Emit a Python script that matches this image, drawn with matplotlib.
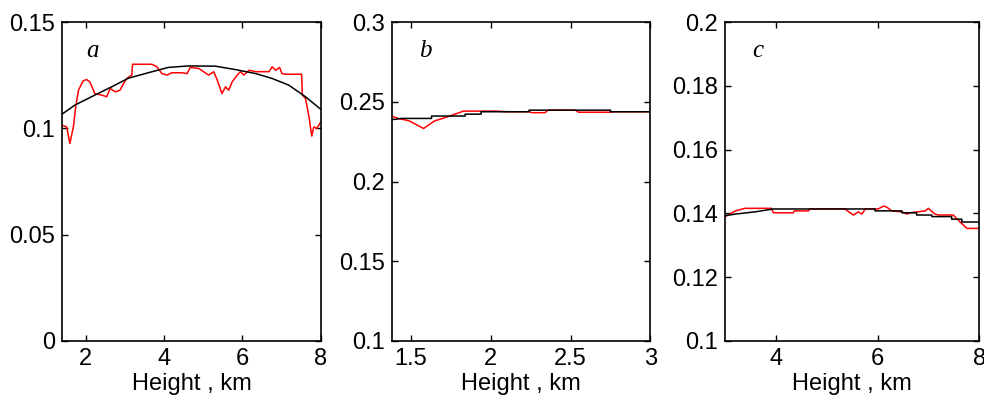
import matplotlib
matplotlib.use("Agg")
from matplotlib import pyplot as plt
from matplotlib import font_manager

# panel a
a_black_x = [1.40, 1.73, 2.24, 2.67, 3.09, 3.60, 4.11, 4.62, 5.31, 5.82, 6.34, 6.76, 7.18, 7.61, 8.00]
a_black_y = [0.1067, 0.1110, 0.1157, 0.1196, 0.1236, 0.1262, 0.1287, 0.1294, 0.1293, 0.1277,
             0.1258, 0.1235, 0.1204, 0.1149, 0.1090]
a_red_x = [1.40, 1.52, 1.60, 1.69, 1.75, 1.82, 1.94, 2.03, 2.11, 2.24, 2.41, 2.54, 2.63, 2.76,
           2.88, 2.97, 3.05, 3.18, 3.20, 3.69, 3.82, 3.95, 4.08, 4.20, 4.46, 4.59, 4.67, 4.89,
           5.01, 5.14, 5.27, 5.36, 5.48, 5.57, 5.65, 5.74, 5.87, 5.95, 6.04, 6.17, 6.34, 6.68,
           6.76, 6.85, 6.95, 7.01, 7.10, 7.51, 7.53, 7.61, 7.70, 7.77, 7.82, 7.90, 8.00]
a_red_y = [0.1015, 0.1007, 0.0929, 0.1007, 0.1102, 0.1180, 0.1224, 0.1230, 0.1219, 0.1164,
           0.1157, 0.1149, 0.1188, 0.1172, 0.1180, 0.1211, 0.1235, 0.1251, 0.1302, 0.1302,
           0.1290, 0.1258, 0.1251, 0.1262, 0.1262, 0.1258, 0.1287, 0.1282, 0.1267, 0.1251,
           0.1267, 0.1227, 0.1164, 0.1196, 0.1180, 0.1219, 0.1251, 0.1267, 0.1251, 0.1274,
           0.1267, 0.1267, 0.1290, 0.1274, 0.1287, 0.1258, 0.1255, 0.1255, 0.1157, 0.1141,
           0.1054, 0.0964, 0.1007, 0.1000, 0.1031]

# panel b
b_black_x = [1.38, 1.40, 1.44, 1.63, 1.63, 1.84, 1.84, 1.94, 1.94, 2.24, 2.24, 2.75, 2.75, 3.00]
b_black_y = [0.2390, 0.2390, 0.2396, 0.2396, 0.2411, 0.2411, 0.2423, 0.2423, 0.2438, 0.2438,
             0.2448, 0.2448, 0.2438, 0.2438]
b_red_x = [1.38, 1.42, 1.49, 1.58, 1.65, 1.70, 1.76, 1.83, 2.03, 2.10, 2.24, 2.26, 2.34, 2.36,
           2.53, 2.55, 2.75, 2.77, 3.00]
b_red_y = [0.2411, 0.2396, 0.2381, 0.2333, 0.2381, 0.2396, 0.2417, 0.2442, 0.2442, 0.2438,
           0.2438, 0.2432, 0.2432, 0.2448, 0.2448, 0.2435, 0.2435, 0.2438, 0.2438]

# panel c
c_black_x = [3.00, 3.20, 3.59, 3.95, 5.95, 5.95, 6.48, 6.48, 6.77, 6.77, 7.07, 7.07, 7.46,
             7.46, 7.66, 7.66, 8.00]
c_black_y = [0.1393, 0.1398, 0.1405, 0.1414, 0.1414, 0.1408, 0.1408, 0.1402, 0.1402, 0.1395,
             0.1395, 0.1390, 0.1390, 0.1382, 0.1382, 0.1373, 0.1373]
c_red_x = [3.00, 3.20, 3.39, 3.91, 3.95, 4.34, 4.36, 4.64, 4.66, 5.36, 5.46, 5.53, 5.62, 5.69,
           5.76, 6.01, 6.12, 6.18, 6.28, 6.48, 6.58, 6.64, 6.94, 7.00, 7.13, 7.20, 7.49, 7.59,
           7.76, 7.92, 8.00]
c_red_y = [0.1390, 0.1408, 0.1416, 0.1416, 0.1402, 0.1402, 0.1408, 0.1408, 0.1414, 0.1414,
           0.1402, 0.1395, 0.1405, 0.1398, 0.1414, 0.1414, 0.1423, 0.1420, 0.1408, 0.1405,
           0.1398, 0.1402, 0.1408, 0.1416, 0.1398, 0.1395, 0.1395, 0.1379, 0.1353, 0.1353,
           0.1353]

a_yticks = [0, 0.05, 0.1, 0.15]
a_ylabels = ["0", "0.05", "0.1", "0.15"]
b_xticks = [1.5, 2, 2.5, 3]
b_xlabels = ["1.5", "2", "2.5", "3"]
b_yticks = [0.1, 0.15, 0.2, 0.25, 0.3]
b_ylabels = ["0.1", "0.15", "0.2", "0.25", "0.3"]
c_xticks = [4, 6, 8]
c_yticks = [0.1, 0.12, 0.14, 0.16, 0.18, 0.2]
c_ylabels = ["0.1", "0.12", "0.14", "0.16", "0.18", "0.2"]

# 字体: 优先窄体
names = {f.name for f in font_manager.fontManager.ttflist}
if "Liberation Sans Narrow" in names:
    fam = ["Liberation Sans Narrow", "DejaVu Sans"]
    fs = 19
else:
    fam = ["Liberation Sans", "DejaVu Sans"]
    fs = 17
plt.rcParams["font.family"] = fam

fig = plt.figure(figsize=(9.84, 4.03), dpi=100)

ax_a = fig.add_axes([0.063, 0.154, 0.263, 0.791])
ax_b = fig.add_axes([0.398, 0.154, 0.263, 0.791])
ax_c = fig.add_axes([0.737, 0.154, 0.258, 0.791])

ax_a.plot(a_red_x, a_red_y, color="red", lw=1.1)
ax_a.plot(a_black_x, a_black_y, color="black", lw=1.1)
ax_a.set_xlim(1.4, 8)
ax_a.set_ylim(0, 0.15)
ax_a.set_xticks([2, 4, 6, 8])
ax_a.set_yticks(a_yticks, a_ylabels)

ax_b.plot(b_red_x, b_red_y, color="red", lw=1.1)
ax_b.plot(b_black_x, b_black_y, color="black", lw=1.1)
ax_b.set_xlim(1.38, 3)
ax_b.set_ylim(0.1, 0.3)
ax_b.set_xticks(b_xticks, b_xlabels)
ax_b.set_yticks(b_yticks, b_ylabels)

ax_c.plot(c_red_x, c_red_y, color="red", lw=1.1)
ax_c.plot(c_black_x, c_black_y, color="black", lw=1.1)
ax_c.set_xlim(3, 8)
ax_c.set_ylim(0.1, 0.2)
ax_c.set_xticks(c_xticks)
ax_c.set_yticks(c_yticks, c_ylabels)

for ax, letter, lx in [(ax_a, "a", 0.095), (ax_b, "b", 0.105), (ax_c, "c", 0.105)]:
    ax.tick_params(direction="in", top=True, right=True, length=4, width=1,
                   labelsize=fs, pad=5, colors="black")
    for s in ax.spines.values():
        s.set_linewidth(1.2)
    ax.set_xlabel("Height , km", fontsize=fs, labelpad=2)
    ax.text(lx, 0.91, letter, transform=ax.transAxes, fontsize=fs + 1,
            family="Liberation Serif", style="italic", va="center")

plt.savefig("out.png", dpi=100)
